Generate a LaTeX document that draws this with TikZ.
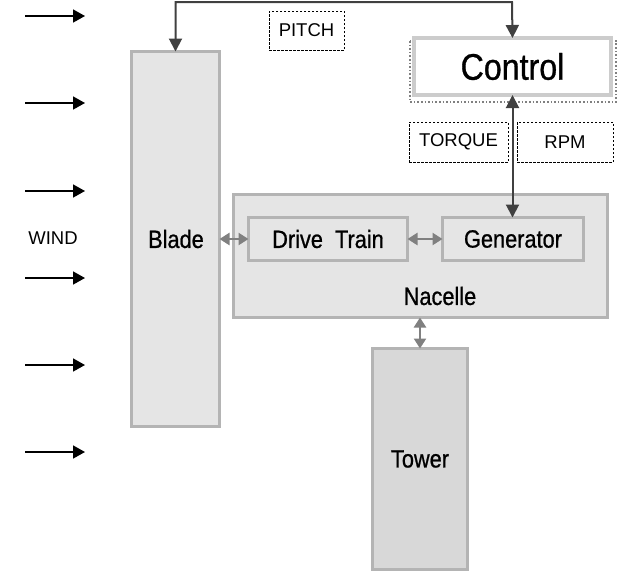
\documentclass[tikz,border=0pt]{standalone}
\usepackage{fontspec}
\setmainfont{Liberation Sans}
\newfontfamily\cond[FakeStretch=0.87,FakeBold=0.8]{Liberation Sans}
\usetikzlibrary{arrows.meta,calc}
\definecolor{boxfill}{HTML}{E5E5E5}
\definecolor{towerfill}{HTML}{D8D8D8}
\definecolor{boxline}{HTML}{B4B4B4}
\definecolor{ctrlline}{HTML}{CCCCCC}
\definecolor{darkarrow}{HTML}{404040}
\definecolor{grayarrow}{HTML}{808080}
\tikzset{
  compbox/.style={draw=boxline, fill=boxfill, line width=3pt, inner sep=0pt, outer sep=0pt, font=\cond\fontsize{25}{30}\selectfont},
  tagbox/.style={draw=black, line width=0.7pt, dash pattern=on 2.5pt off 1.5pt, inner sep=0pt, outer sep=0pt, font=\fontsize{18.5}{22}\selectfont},
  darr/.style={draw=darkarrow, line width=2pt, {Triangle[length=13pt,width=13pt]}-{Triangle[length=13pt,width=13pt]}},
  garr/.style={draw=grayarrow, line width=2.4pt, {Triangle[length=10pt,width=12pt]}-{Triangle[length=10pt,width=12pt]}},
  windarr/.style={draw=black, line width=1.6pt, -{Triangle[length=12pt,width=13pt]}},
}
\begin{document}
\begin{tikzpicture}[x=1pt,y=-1pt]
\useasboundingbox (0,0) rectangle (622,574);
% boxes
\node[compbox, minimum width=88pt, minimum height=375pt] (blade) at (175.5,239) {};
\node[font=\cond\fontsize{25}{30}\selectfont] (bladelbl) at (176,239) {Blade};
\node[compbox, minimum width=374pt, minimum height=123pt] (nacelle) at (420.5,256) {};
\node[font=\cond\fontsize{25}{30}\selectfont] (nacellelbl) at (440,296) {Nacelle};
\node[compbox, minimum width=159pt, minimum height=43pt] (drive) at (328,239) {Drive\ \ Train};
\node[compbox, minimum width=141pt, minimum height=43pt] (gen) at (513,239) {Generator};
\node[compbox, fill=towerfill, minimum width=95pt, minimum height=221pt] (tower) at (420,459) {Tower};
% control
\draw[draw=grayarrow, dotted, line width=1.6pt] (410,41) rectangle (616,102);
\node[draw=ctrlline, fill=white, line width=4.5pt, inner sep=0pt, outer sep=0pt, minimum width=197pt, minimum height=57pt, font=\cond\fontsize{37}{44}\selectfont] (control) at (512.5,66.5) {Control};
% tags
\node[tagbox, minimum width=75pt, minimum height=39pt] (pitch) at (306.5,30.5) {PITCH};
\node[tagbox, minimum width=99pt, minimum height=40pt] (torque) at (458.5,142) {TORQUE};
\node[tagbox, minimum width=96pt, minimum height=40pt] (rpm) at (565,142) {RPM};
\node[font=\fontsize{18.5}{22}\selectfont] (wind) at (53,238) {WIND};
% connectors
\coordinate (ptop) at (512,2);
\draw[darr] (blade.north) |- (ptop) -- (control.north);
\draw[darr] (control.south) -- (control.south |- gen.north);
\draw[garr] (blade.east) -- (drive.west);
\draw[garr] (drive.east) -- (gen.west);
\draw[garr] (tower.north |- nacelle.south) -- (tower.north);
% wind arrows
\foreach \y/\n in {16/a,103/b,191/c,278/d,365/e,452/f}{
  \coordinate (w\n s) at (25,\y);
  \coordinate (w\n e) at (85,\y);
  \draw[windarr] (w\n s) -- (w\n e);
}
\end{tikzpicture}
\end{document}
